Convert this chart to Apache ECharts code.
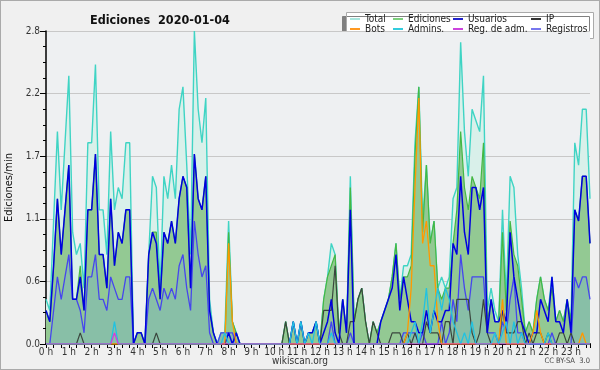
<!DOCTYPE html>
<html><head><meta charset="utf-8">
<script src="https://cdn.jsdelivr.net/npm/echarts@6/dist/echarts.min.js"></script>
<style>html,body{margin:0;padding:0;background:#f0f0f0}#c{width:600px;height:370px;position:relative;background:#f0f0f0}#b{position:absolute;left:0;top:0;width:600px;height:370px;box-sizing:border-box;border:1px solid #aaaaaa;pointer-events:none}</style>
</head><body><div id="c"></div><div id="b"></div>
<script>
// 10-minute steps, 0:00 .. 23:50 (edits per minute)
var hourLabels = ['0 h','1 h','2 h','3 h','4 h','5 h','6 h','7 h','8 h','9 h','10 h','11 h','12 h','13 h','14 h','15 h','16 h','17 h','18 h','19 h','20 h','21 h','22 h','23 h'];
var yTicks = ['0.0','0.6','1.1','1.7','2.2','2.8'];
var total = [
0.4,0.3,1.1,1.9,1.2,1.8,2.4,1.0,0.8,0.9,0.5,1.8,
1.8,2.5,1.2,1.2,0.8,1.9,1.2,1.4,1.3,1.8,1.8,0,
0.1,0.1,0,0.8,1.5,1.4,0.5,1.5,1.3,1.6,1.3,2.1,
2.3,1.6,0.8,2.8,2.1,1.8,2.2,0.4,0.1,0,0.1,0.1,
1.1,0.2,0.1,0,0,0,0,0,0,0,0,0,
0,0,0,0.2,0,0.2,0,0.2,0,0.1,0.1,0.2,
0,0.4,0.6,0.9,0.8,0.1,0.4,0.1,1.5,0.2,0.4,0.5,
0.2,0,0.2,0.1,0.2,0.3,0.4,0.6,0.9,0.4,0.7,0.7,
0.8,1.8,2.3,1.1,1.6,0.9,1.1,0.5,0.6,0.5,0.6,1.3,
1.4,2.7,1.9,1.5,2.1,2.0,1.9,2.4,0.3,0.5,0.3,0.2,
1.2,0.4,1.5,1.4,0.8,0.5,0.1,0.2,0.1,0.4,0.6,0.4,
0.3,0.6,0.2,0.3,0.2,0.4,0.2,1.8,1.6,2.1,2.1,1.3];
var ediciones = [
0.3,0.2,0.7,1.3,0.8,1.2,1.6,0.4,0.4,0.7,0.3,1.2,
1.2,1.7,0.8,0.8,0.5,1.3,0.7,1.0,0.9,1.2,1.2,0,
0.1,0.1,0,0.8,1.0,1.0,0.4,1.0,0.9,1.1,0.9,1.3,
1.5,1.4,0.5,1.7,1.3,1.2,1.5,0.3,0.1,0,0,0,
1.0,0.2,0.1,0,0,0,0,0,0,0,0,0,
0,0,0,0.2,0,0.2,0,0.2,0,0.1,0.1,0.2,
0,0.4,0.6,0.7,0.8,0.1,0.4,0.1,1.4,0.2,0.4,0.5,
0.2,0,0.2,0.1,0.2,0.3,0.4,0.6,0.9,0.4,0.6,0.6,
0.7,1.7,2.3,1.0,1.6,0.9,1.1,0.5,0.4,0.5,0.5,0.9,
1.2,1.9,1.4,1.2,1.5,1.4,1.3,1.8,0.2,0.4,0.2,0.2,
1.0,0.3,1.1,0.8,0.7,0.4,0.1,0.2,0.1,0.4,0.6,0.4,
0.3,0.5,0.2,0.3,0.2,0.4,0.2,1.2,1.1,1.5,1.5,0.9];
var usuarios = [
0.3,0.2,0.7,1.3,0.8,1.2,1.6,0.4,0.4,0.6,0.3,1.2,
1.2,1.7,0.8,0.8,0.5,1.3,0.7,1.0,0.9,1.2,1.2,0,
0.1,0.1,0,0.8,1.0,0.9,0.4,1.0,0.9,1.1,0.9,1.3,
1.5,1.4,0.5,1.7,1.3,1.2,1.5,0.3,0.1,0,0,0,
0.1,0,0.1,0,0,0,0,0,0,0,0,0,
0,0,0,0,0,0.2,0,0.2,0,0.1,0.1,0.2,
0,0.1,0.2,0.4,0.1,0,0.4,0.1,1.2,0,0,0,
0,0,0,0,0.2,0.3,0.4,0.5,0.8,0.3,0.6,0.4,
0.2,0.2,0.1,0.1,0.3,0.1,0.3,0.2,0.2,0.3,0.3,0.9,
0.8,1.5,1.0,0.8,1.4,1.4,1.2,1.4,0.1,0.4,0.2,0.2,
0.3,0.2,1.0,0.6,0.4,0.2,0.1,0,0.1,0.1,0.4,0.3,
0.2,0.6,0.2,0.2,0.1,0.4,0.1,1.2,1.1,1.5,1.5,0.9];
var ip = [
0,0,0,0,0,0,0,0,0,0.1,0,0,
0,0,0,0,0,0,0,0,0,0,0,0,
0,0,0,0,0,0.1,0,0,0,0,0,0,
0,0,0,0,0,0,0,0,0,0,0,0,
0,0,0,0,0,0,0,0,0,0,0,0,
0,0,0,0.2,0,0,0,0,0,0,0,0,
0,0.3,0.3,0.3,0.7,0.1,0,0,0.2,0.2,0.4,0.5,
0.2,0,0.2,0.1,0,0,0,0.1,0.1,0.1,0,0.1,
0,0.1,0,0,0.2,0.1,0.1,0.1,0,0.2,0.2,0,
0.4,0.4,0.4,0.4,0.1,0,0.1,0.4,0.1,0,0,0,
0.3,0.1,0.1,0.1,0.2,0.2,0,0.1,0,0.1,0.1,0,
0.1,0,0,0.1,0.1,0,0.1,0,0,0,0,0];
var bots = [
0,0,0,0,0,0,0,0,0,0,0,0,
0,0,0,0,0,0,0,0,0,0,0,0,
0,0,0,0,0,0,0,0,0,0,0,0,
0,0,0,0,0,0,0,0,0,0,0,0,
0.9,0.2,0,0,0,0,0,0,0,0,0,0,
0,0,0,0,0,0,0,0,0,0,0,0,
0,0,0,0,0,0,0,0,0,0,0,0,
0,0,0,0,0,0,0,0,0,0,0,0.1,
0.5,1.4,2.2,0.9,1.1,0.7,0.7,0.2,0,0,0,0,
0,0,0,0,0,0,0,0,0,0,0,0,
0.4,0,0,0,0,0,0,0,0.1,0.3,0.1,0,
0,0,0,0,0,0,0,0,0,0.1,0,0];
var admins = [
0,0,0,0,0,0,0,0,0,0,0,0,
0,0,0,0,0,0,0.2,0,0,0,0,0,
0,0,0,0,0,0,0,0,0,0,0,0,
0,0,0,0,0,0,0,0,0,0,0,0.1,
0,0,0,0,0,0,0,0,0,0,0,0,
0,0,0,0,0,0.2,0,0.2,0,0.1,0,0.2,
0,0,0,0.1,0,0,0,0,0,0,0,0,
0,0,0,0,0,0,0,0,0,0,0,0,
0.1,0.2,0,0.2,0.5,0.1,0.3,0.5,0.3,0.5,0.4,0.2,
0.1,0,0.1,0,0.2,0,0,0,0,0,0.1,0,
0.1,0.2,0,0.2,0,0.1,0,0,0,0,0,0,
0.1,0,0,0,0,0,0,0,0,0,0,0];
var regAdm = [
0,0,0,0,0,0,0,0,0,0,0,0,
0,0,0,0,0,0,0.1,0,0,0,0,0,
0,0,0,0,0,0,0,0,0,0,0,0,
0,0,0,0,0,0,0,0,0,0,0,0,
0,0,0,0,0,0,0,0,0,0,0,0,
0,0,0,0,0,0,0,0,0,0,0,0,
0,0,0,0,0,0,0,0,0,0,0,0,
0,0,0,0,0,0,0,0,0,0,0,0,
0,0,0,0,0,0,0,0,0,0,0,0,
0,0,0,0,0,0,0,0,0,0,0,0,
0,0,0,0,0,0,0,0,0,0,0,0,
0,0,0,0,0,0,0,0,0,0,0,0];
var registros = [
0,0,0.3,0.6,0.4,0.6,0.8,0.4,0.4,0.3,0.1,0.6,
0.6,0.8,0.4,0.4,0.3,0.6,0.5,0.4,0.4,0.6,0.6,0,
0,0,0,0.4,0.5,0.4,0.3,0.5,0.4,0.5,0.4,0.7,
0.8,0.5,0.3,1.1,0.8,0.6,0.7,0.1,0,0,0.1,0.1,
0.1,0.1,0,0,0,0,0,0,0,0,0,0,
0,0,0,0,0,0,0,0,0,0,0,0,
0,0,0,0.2,0,0,0,0,0.1,0,0,0,
0,0,0,0,0,0,0,0,0,0,0.1,0.1,
0.1,0.1,0,0.1,0,0,0,0,0.2,0,0.1,0.4,
0.2,0.8,0.5,0.3,0.6,0.6,0.6,0.6,0.1,0.1,0.1,0,
0.2,0.1,0.4,0.6,0.1,0.1,0,0,0,0,0,0,
0,0.1,0,0,0,0,0,0.6,0.5,0.6,0.6,0.4];

var FONT = '"DejaVu Sans Condensed", "DejaVu Sans"';
function pairs(a){ return a.map(function(v,i){ return [i, v]; }); }
function ln(name, data, color, width, area, z){
  var s = {name:name, type:'line', data:pairs(data), symbol:'none', silent:true, z:z,
    itemStyle:{color:color}, lineStyle:{color:color, width:width}};
  if (area) s.areaStyle = {color:area, opacity:1};
  return s;
}
function leg(left, items){
  return {left:left, top:14, orient:'vertical', itemGap:0, itemWidth:10, itemHeight:2, icon:'rect',
    selectedMode:false, padding:0,
    textStyle:{fontFamily:FONT, fontSize:10, color:'#222', lineHeight:10},
    data:items.map(function(it){ return {name:it[0], itemStyle:{color:it[1]}}; })};
}
var chart = echarts.init(document.getElementById('c'), null, {renderer:'canvas'});
chart.setOption({
  animation:false,
  backgroundColor:'#f0f0f0',
  title:{text:'Ediciones  2020-01-04', left:85, top:9, textStyle:{fontFamily:FONT, fontSize:12.5, fontWeight:'bold', color:'#111'}},
  grid:{left:46, right:10, top:31, bottom:26, show:true, backgroundColor:'#eef0f2', borderWidth:0, containLabel:false, outerBoundsMode:'none'},
  legend:[
    leg(350, [['Total','#a8e6de'],['Bots','#ff9922']]),
    leg(393, [['Ediciones','#7ccf7c'],['Admins.','#33ccdd']]),
    leg(453, [['Usuarios','#2222cc'],['Reg. de adm.','#cc44dd']]),
    leg(531, [['IP','#333333'],['Registros','#7777ee']])
  ],
  xAxis:{type:'value', min:0, max:143, interval:6,
    axisLine:{show:true, lineStyle:{color:'#000', width:2}},
    axisTick:{show:true, length:4, lineStyle:{color:'#000'}},
    minorTick:{show:true, splitNumber:3, length:4, lineStyle:{color:'#000'}},
    splitLine:{show:false},
    axisLabel:{fontFamily:FONT, fontSize:10, color:'#333', margin:3,
      formatter:function(v){ return (v % 6 === 0) ? hourLabels[v/6] : ''; }}},
  yAxis:{type:'value', min:0, max:2.8, interval:0.56,
    name:'Ediciones/min', nameLocation:'middle', nameGap:31, nameRotate:90,
    nameTextStyle:{fontFamily:FONT, fontSize:11, color:'#111'},
    axisLine:{show:true, lineStyle:{color:'#000', width:1.5}},
    axisTick:{show:true, length:6, lineStyle:{color:'#000'}},
    minorTick:{show:true, splitNumber:4, length:3, lineStyle:{color:'#000'}},
    splitLine:{show:true, lineStyle:{color:'#c8c8c8', width:1}},
    axisLabel:{fontFamily:FONT, fontSize:10, color:'#333', margin:6,
      formatter:function(v){ return yTicks[Math.round(v/0.56)]; }}},
  graphic:[
    {type:'rect', left:346, top:12, z:-1, shape:{width:247, height:26},
      style:{fill:'#fff', stroke:'#aaa', lineWidth:1, shadowColor:'#808080', shadowOffsetX:-4, shadowOffsetY:4, shadowBlur:0}},
    {type:'text', left:'center', top:356, style:{text:'wikiscan.org', font:'10px "DejaVu Sans Condensed", "DejaVu Sans"', fill:'#333'}},
    {type:'text', right:10, top:357, style:{text:'CC BY-SA  3.0', font:'7.5px "DejaVu Sans Condensed", "DejaVu Sans"', fill:'#444'}}
  ],
  series:[
    ln('Total', total, '#3fd4c4', 1.4, '#d9f0ea', 1),
    ln('Ediciones', ediciones, '#44b844', 1.2, '#93c993', 2),
    ln('Registros', registros, '#4646ee', 1.3, '#88bfa7', 3),
    ln('IP', ip, '#3a463e', 1.2, null, 4),
    ln('Usuarios', usuarios, '#0000e0', 1.5, null, 5),
    ln('Bots', bots, '#ff9900', 1.3, null, 6),
    ln('Admins.', admins, '#22c2e0', 1.3, null, 7),
    ln('Reg. de adm.', regAdm, '#dd33dd', 1.2, null, 8)
  ]
});
</script></body></html>
